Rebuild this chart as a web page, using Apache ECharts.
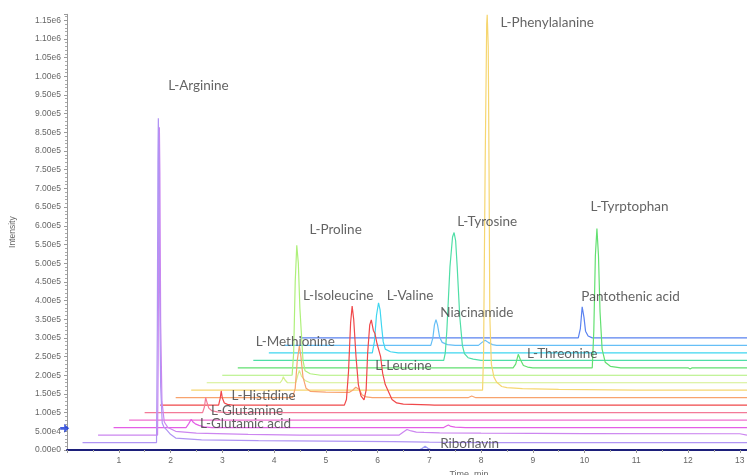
<!DOCTYPE html>
<html><head><meta charset="utf-8">
<script src="https://cdn.jsdelivr.net/npm/echarts@6/dist/echarts.min.js"></script>
<style>html,body{margin:0;padding:0;background:#fff}#c{width:747px;height:475px}</style>
</head><body><div id="c"></div>
<script>
// ---- data: 16 offset XIC traces (time in min, intensity in cps) ----
const traceNames = ['Riboflavin','L-Arginine','Trace 3','L-Glutamic acid','Trace 5','L-Glutamine',
  'L-Histidine / L-Isoleucine / L-Leucine','L-Methionine','L-Phenylalanine','Trace 10','L-Proline',
  'L-Threonine / L-Tyrptophan','L-Tyrosine','L-Valine','Niacinamide','Pantothenic acid'];
const traceStart = [0, 0.3, 0.6, 0.9, 1.2, 1.5, 1.8, 2.1, 2.4, 2.7, 3.0, 3.3, 3.6, 3.9, 4.2, 4.5];
const traceBaseline = [0, 20000, 40000, 60000, 80000, 100000, 120000, 140000, 160000, 180000,
  200000, 220000, 240000, 260000, 280000, 300000];
const traceEnd = 13.14;
// peak points: [time, height above the trace baseline]
const peaks0 = [[6.80,0],[6.86,4000],[6.92,10000],[6.98,4000],[7.05,0]];
const peaks1 = [[1.73,0],[1.745,300000],[1.757,750000],[1.765,868000],[1.775,780000],[1.79,400000],
  [1.81,150000],[1.84,52000],[1.87,42000],[1.93,33000],[2.0,22000],[2.1,12000],[2.6,7000],[3.7,5000],
  [5.0,4000],[6.3,2200],[7.0,1000],[8.0,0]];
const peaks2 = [[1.75,0],[1.762,200000],[1.774,650000],[1.785,824000],[1.795,700000],[1.81,300000],
  [1.835,90000],[1.88,35000],[1.95,20000],[2.1,10000],[2.5,5000],[3.5,2000],[4.5,0],
  [6.42,0],[6.5,8000],[6.57,15000],[6.65,11000],[6.75,8000],[6.9,7000],[7.2,6000],[8.0,5000],[10.0,4000],[13.0,3500]];
const peaks3 = [[2.30,0],[2.35,10000],[2.40,22000],[2.44,14000],[2.48,10000],[2.55,6000],[2.65,2000],[2.8,0],
  [7.28,0],[7.33,4000],[7.37,7000],[7.42,3000],[7.5,1000],[7.7,0]];
const peaks4 = [];
const peaks5 = [[2.62,0],[2.655,15000],[2.68,40000],[2.71,25000],[2.74,12000],[2.8,5000],[2.9,2000],[3.1,0]];
const peaks6 = [[2.93,0],[2.96,18000],[2.98,38000],[3.0,20000],[3.04,6000],[3.1,2000],[3.2,0],
  [5.36,0],[5.40,15000],[5.44,90000],[5.48,220000],[5.51,265000],[5.54,230000],[5.585,129000],[5.63,55000],
  [5.68,25000],[5.74,14000],[5.78,40000],[5.81,140000],[5.85,215000],[5.88,228000],[5.92,200000],[5.95,192000],
  [5.99,165000],[6.02,166000],[6.06,130000],[6.1,85000],[6.15,55000],[6.2,40000],[6.28,15000],[6.37,6000],
  [6.5,3000],[7.0,1000],[7.1,0]];
const peaks7 = [[4.36,0],[4.41,25000],[4.45,100000],[4.49,139000],[4.52,110000],[4.56,55000],[4.62,25000],
  [4.7,17000],[5.0,15000],[5.35,14000],[5.45,14000],[5.52,20000],[5.58,28000],[5.61,29000],[5.65,22000],
  [5.70,8000],[5.78,2000],[5.9,0],[7.75,0],[7.82,4500],[7.9,0]];
const peaks8 = [[8.03,0],[8.05,100000],[8.08,600000],[8.11,980000],[8.12,1005000],[8.14,920000],[8.155,600000],
  [8.17,200000],[8.2,70000],[8.25,35000],[8.3,22000],[8.4,10000],[8.5,7000],[8.8,4000],[9.5,2000],[11.0,0]];
const peaks9 = [[4.12,0],[4.16,8000],[4.18,16000],[4.21,8000],[4.26,0],[4.42,0],[4.46,20000],[4.49,33000],
  [4.53,18000],[4.6,6000],[4.7,0]];
const peaks10 = [[4.35,0],[4.38,60000],[4.41,250000],[4.44,348000],[4.47,300000],[4.5,180000],[4.53,110000],
  [4.56,40000],[4.6,12000],[4.7,4000],[4.9,0]];
const peaks11 = [[8.62,0],[8.67,10000],[8.72,36000],[8.76,22000],[8.82,6000],[8.9,2000],[9.0,0],
  [10.15,0],[10.18,100000],[10.21,300000],[10.24,373000],[10.27,300000],[10.30,150000],[10.34,50000],
  [10.4,15000],[10.5,4000],[10.7,0],[12.0,0],[12.04,-3000],[12.08,0]];
const peaks12 = [[7.28,0],[7.31,20000],[7.34,80000],[7.40,250000],[7.45,330000],[7.48,342000],[7.51,320000],
  [7.54,250000],[7.59,116000],[7.64,40000],[7.68,18000],[7.75,7000],[7.85,3000],[8.0,0]];
const peaks13 = [[5.90,0],[5.94,30000],[5.98,100000],[6.02,134000],[6.05,115000],[6.08,70000],[6.11,30000],
  [6.15,10000],[6.25,3000],[6.4,0]];
const peaks14 = [[7.03,0],[7.07,20000],[7.10,55000],[7.13,69000],[7.16,55000],[7.20,22000],[7.25,8000],
  [7.35,2000],[7.5,0],[7.95,0],[8.02,8000],[8.08,14000],[8.14,8000],[8.22,2000],[8.3,0]];
const peaks15 = [[9.88,0],[9.92,25000],[9.955,83000],[9.99,55000],[10.02,18000],[10.07,5000],[10.15,0]];
const tracePeaks = [peaks0,peaks1,peaks2,peaks3,peaks4,peaks5,peaks6,peaks7,peaks8,peaks9,peaks10,
  peaks11,peaks12,peaks13,peaks14,peaks15];

// compound annotations: text and anchor (time, intensity)
const annotationNames = ['L-Arginine','L-Phenylalanine','L-Proline','L-Tyrosine','L-Tyrptophan','L-Isoleucine',
  'L-Valine','Niacinamide','Pantothenic acid','L-Methionine','L-Leucine','L-Threonine','L-Histidine',
  'L-Glutamine','L-Glutamic acid','Riboflavin'];
const annotationTime = [2.54, 9.28, 5.19, 8.12, 10.87, 5.24, 6.63, 7.92, 10.89, 4.41, 6.50, 9.57, 3.80, 3.48, 3.45, 7.78];
const annotationIntensity = [975000, 1145000, 590000, 610000, 652000, 412000, 412000, 368000, 410000, 289000,
  225000, 258000, 145000, 105000, 70000, 18000];

const thresholdMark = [[-0.045, 58000]];

// ---- styles ----
const traceColors = ['#9a9af4','#b094f4','#cc86f0','#e45ee6','#f070d0','#f37a98','#f0484a','#f8a36e',
  '#f6d670','#d4f08e','#aef07a','#62e070','#4fdea6','#3fd6f0','#66bff6','#5a82f0'];

const series = [];
for (let i = traceNames.length - 1; i >= 0; i--) {
  const base = traceBaseline[i];
  const pts = [[traceStart[i], base]];
  tracePeaks[i].forEach(p => pts.push([p[0], base + p[1]]));
  pts.push([traceEnd, base]);
  series.push({
    name: traceNames[i], type: 'line', data: pts, showSymbol: false, symbol: 'none',
    lineStyle: {color: traceColors[i], width: 1.2}, itemStyle: {color: traceColors[i]},
    animation: false, z: 2
  });
}
series.push({
  type: 'scatter', data: annotationNames.map((n, k) => ({name: n, value: [annotationTime[k], annotationIntensity[k]]})),
  symbolSize: 0, clip: false, silent: true, animation: false, z: 5,
  label: {show: true, position: 'inside', formatter: p => p.name, color: '#3c3c3c',
    fontFamily: 'Lato', fontSize: 13.5}
});
series.push({
  type: 'scatter', data: thresholdMark, clip: false, animation: false, z: 6,
  symbol: 'path://M0,3.5 L4,3.5 L4,0 L9,5 L4,10 L4,6.5 L0,6.5 Z', symbolSize: [9, 9],
  itemStyle: {color: '#1436d8'}
});

const chart = echarts.init(document.getElementById('c'), null, {renderer: 'canvas'});
chart.setOption({
  backgroundColor: '#ffffff',
  animation: false,
  grid: {left: 67, right: 0, top: 14.3, bottom: 25, containLabel: false, outerBoundsMode: 'none'},
  xAxis: {
    type: 'value', min: 0, max: 13.14, interval: 1, z: 3,
    name: 'Time, min', nameLocation: 'middle', nameGap: 17,
    nameTextStyle: {color: '#666', fontSize: 9, fontFamily: 'Liberation Sans', padding: [0, 0, 0, 124]},
    axisLine: {show: true, onZero: false, lineStyle: {color: '#1c1f7a', width: 2}},
    axisTick: {show: true, length: 3, lineStyle: {color: '#999'}},
    minorTick: {show: true, splitNumber: 2, length: 2, lineStyle: {color: '#aaa'}},
    splitLine: {show: false},
    axisLabel: {showMinLabel: false, showMaxLabel: false, color: '#666', fontSize: 8.5, fontFamily: 'Liberation Sans', margin: 6,
      formatter: v => (Math.abs(v - Math.round(v)) < 1e-9 ? String(Math.round(v)) : '')}
  },
  yAxis: {
    type: 'value', min: 0, max: 1166000, interval: 50000,
    name: 'Intensity', nameLocation: 'middle', nameGap: 50,
    nameTextStyle: {color: '#666', fontSize: 8.5, fontFamily: 'Liberation Sans'},
    axisLine: {show: true, lineStyle: {color: '#999', width: 1}},
    axisTick: {show: true, length: 3, lineStyle: {color: '#999'}},
    minorTick: {show: true, splitNumber: 5, length: 2, lineStyle: {color: '#aaa'}},
    splitLine: {show: false},
    axisLabel: {color: '#666', fontSize: 8.5, fontFamily: 'Liberation Sans', margin: 6,
      formatter: v => (v % 50000 === 0 ? v.toExponential(2).replace('+', '') : '')}
  },
  series: series
});
</script></body></html>
